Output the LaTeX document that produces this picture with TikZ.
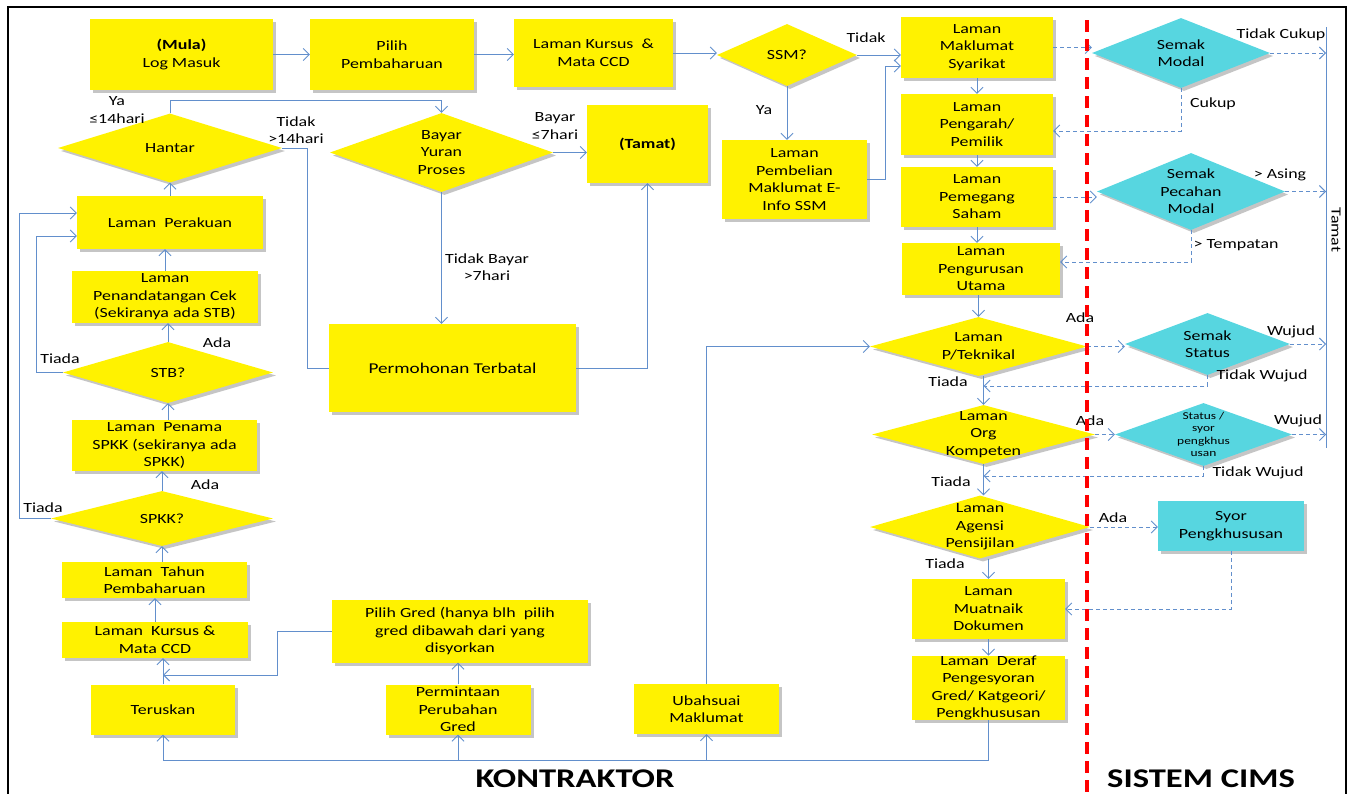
\documentclass[tikz,border=0pt]{standalone}
\usepackage{fontspec}
\setmainfont{Carlito}[FakeStretch=1.28]
\usetikzlibrary{arrows.meta,shapes.geometric,shadows}
\definecolor{flow}{RGB}{98,143,204}
\definecolor{cims}{RGB}{87,214,224}

\begin{document}
\begin{tikzpicture}[x=1pt,y=-1pt,font=\fontsize{14}{17.5}\selectfont]
\tikzstyle{box}=[rectangle, fill=yellow, align=center, inner sep=0pt, drop shadow={shadow xshift=3pt, shadow yshift=-3pt, fill=black!45, opacity=0.5}]
\tikzstyle{dia}=[diamond, fill=yellow, inner sep=0pt, drop shadow={shadow xshift=3pt, shadow yshift=-3pt, fill=black!45, opacity=0.5}]
\tikzstyle{cbox}=[box, fill=cims]
\tikzstyle{cdia}=[dia, fill=cims]
\tikzstyle{dtxt}=[align=center, inner sep=0pt]
\tikzstyle{lbl}=[align=center, inner sep=0pt]
\tikzstyle{ln}=[draw=flow, line width=0.9pt]
\tikzstyle{arr}=[ln, -{Straight Barb[length=6pt,width=12pt]}]
\tikzstyle{dsh}=[arr, dash pattern=on 4pt off 3pt]
\useasboundingbox (0,0) rectangle (1349,793);
\draw[line width=2pt] (8,800) -- (8,7) -- (1346,7) -- (1346,800);

\draw (181.5,54.5) node (mula) [box, minimum width=183, minimum height=71] {\textbf{(Mula)}\\Log Masuk};
\draw (392,54.5) node (pilih) [box, minimum width=164, minimum height=71] {Pilih\\Pembaharuan};
\draw (593.5,53) node (kursus) [box, minimum width=159, minimum height=68] {Laman Kursus~~\&\\Mata CCD};
\draw (787,55) node (ssm) [dia, minimum width=140, minimum height=62, label={[dtxt]center:SSM?}] {};
\draw (647.5,144) node (tamat) [box, minimum width=121, minimum height=78] {\textbf{(Tamat)}};
\draw (794.5,179.5) node (pembel) [box, minimum width=145, minimum height=79] {Laman\\Pembelian\\Maklumat E-\\Info SSM};
\draw (170,148) node (hantar) [dia, minimum width=224, minimum height=69, label={[dtxt]center:Hantar}] {};
\draw (441.5,152.5) node (bayar) [dia, minimum width=223, minimum height=79, label={[dtxt]center:Bayar\\Yuran\\Proses}] {};
\draw (452.5,368) node (batal) [box, minimum width=247, minimum height=88, font=\fontsize{15}{18}\selectfont] {Permohonan Terbatal};

\draw (170,222.5) node (perakuan) [box, minimum width=186, minimum height=53] {Laman~~Perakuan};
\draw (165,297) node (cek) [box, minimum width=186, minimum height=52] {Laman\\Penandatangan Cek\\(Sekiranya~ada~STB)};
\draw (168,372.5) node (stb) [dia, minimum width=210, minimum height=61, label={[dtxt]center:STB?}] {};
\draw (164.5,445.5) node (penama) [box, minimum width=185, minimum height=51] {Laman~~Penama\\SPKK (sekiranya~ada\\SPKK)};
\draw (162,518.5) node (spkk) [dia, minimum width=222, minimum height=55, label={[dtxt]center:SPKK?}] {};
\draw (154.5,580) node (tahun) [box, minimum width=185, minimum height=36] {Laman~~Tahun\\Pembaharuan};
\draw (155,640) node (kursus2) [box, minimum width=186, minimum height=36] {Laman~~Kursus \&\\Mata CCD};
\draw (163,709.5) node (teruskan) [box, minimum width=144, minimum height=50] {Teruskan};
\draw (460,631) node (gred) [box, minimum width=256, minimum height=63] {Pilih Gred (hanya blh~~pilih\\gred dibawah dari yang\\disyorkan};
\draw (458,709.5) node (minta) [box, minimum width=145, minimum height=50] {Permintaan\\Perubahan\\Gred};
\draw (706.5,709) node (ubah) [box, minimum width=145, minimum height=50] {Ubahsuai\\Maklumat};

\draw (977,47.5) node (mak) [box, minimum width=152, minimum height=61] {Laman\\Maklumat\\Syarikat};
\draw (977,124.5) node (pengarah) [box, minimum width=152, minimum height=61] {Laman\\Pengarah/\\Pemilik};
\draw (977,197) node (pemegang) [box, minimum width=152, minimum height=60] {Laman\\Pemegang\\Saham};
\draw (981,269) node (urus) [box, minimum width=158, minimum height=52] {Laman\\Pengurusan\\Utama};
\draw (978.5,346.5) node (ptek) [dia, minimum width=217, minimum height=59, label={[dtxt]center:Laman\\P/Teknikal}] {};
\draw (983.5,434.5) node (org) [dia, minimum width=223, minimum height=59, label={[dtxt]center:Laman\\Org\\Kompeten}] {};
\draw (980,527) node (agensi) [dia, minimum width=220, minimum height=63, label={[dtxt]center:Laman\\Agensi\\Pensijilan}] {};
\draw (988.5,609) node (muat) [box, minimum width=153, minimum height=60] {Laman\\Muatnaik\\Dokumen};
\draw (988.5,688) node (deraf) [box, minimum width=153, minimum height=62] {Laman~~Deraf\\Pengesyoran\\Gred/ Katgeori/\\Pengkhususan};

\draw (1181,53) node (modal) [cdia, minimum width=178, minimum height=70, label={[dtxt]center:Semak\\Modal}] {};
\draw (1191,191.5) node (pecahan) [cdia, minimum width=188, minimum height=77, label={[dtxt]center:Semak\\Pecahan\\Modal}] {};
\draw (1207.5,344) node (status) [cdia, minimum width=165, minimum height=62, label={[dtxt]center:Semak\\Status}] {};
\draw (1203.5,434.5) node (syor) [cdia, minimum width=177, minimum height=63, label={[dtxt, font=\fontsize{10.5}{12.5}\selectfont]center:Status /\\syor\\pengkhus\\usan}] {};
\draw (1231,526) node (syorP) [cbox, minimum width=146, minimum height=50] {Syor\\Pengkhususan};

\coordinate (bus) at (deraf.south |- 0,760);
\coordinate (j1) at (teruskan.north |- 0,675);
\coordinate (j2) at (org.north |- 0,386);
\coordinate (j3) at (org.south |- 0,476);
\coordinate (tt) at (1326,27);
\coordinate (tb) at (1326,448);

\draw[arr] (mula) -- (pilih);
\draw[arr] (pilih.east) -- (pilih.east -| kursus.west);
\draw[arr] (kursus.east) -- (kursus.east -| ssm.west);
\draw[arr] (ssm.east) -- (ssm.east -| mak.west);
\draw[arr] (ssm.south) -- (ssm.south |- pembel.north);
\draw[arr] (pembel.east) -- ++(18,0) |- (mak.west |- 0,66);
\draw[arr] (mak) -- (pengarah);
\draw[arr] (pengarah) -- (pemegang);
\draw[arr] (pemegang.south) -- (pemegang.south |- urus.north);
\draw[arr] (ptek.north |- urus.south) -- (ptek.north);
\draw[arr] (org.north |- ptek.south) -- (org.north);
\draw[arr] (org.south) -- (org.south |- agensi.north);
\draw[arr] (muat.north |- agensi.south) -- (muat.north);
\draw[arr] (muat) -- (deraf);
\draw[arr] (deraf.south) -- (bus) -| (teruskan.south);
\draw[arr] (ubah.south |- bus) -- (ubah.south);
\draw[arr] (minta.south |- bus) -- (minta.south);
\draw[arr] (ubah.north) |- (ptek.west);
\draw[arr] (teruskan.north) -- (teruskan.north |- kursus2.south);
\draw[arr] (gred.west) -- ++(-54,0) |- (j1);
\draw[arr] (minta.north) -- (minta.north |- gred.south);
\draw[arr] (kursus2.north) -- (kursus2.north |- tahun.south);
\draw[arr] (spkk.south |- tahun.north) -- (spkk.south);
\draw[arr] (spkk.north) -- (spkk.north |- penama.south);
\draw[arr] (stb.south |- penama.north) -- (stb.south);
\draw[arr] (stb.north) -- (stb.north |- cek.south);
\draw[arr] (cek.north) -- (cek.north |- perakuan.south);
\draw[arr] (hantar.south |- perakuan.north) -- (hantar.south);
\draw[arr] (stb.west) -- ++(-26,0) |- (perakuan.west |- 0,236);
\draw[arr] (spkk.west) -- ++(-31,0) |- (perakuan.west |- 0,213);
\draw[arr] (hantar.north) -- ++(0,-13) -| (bayar.north);
\draw[ln] (hantar.east) -- ++(25,0) |- (batal.west);
\draw[arr] (bayar.east) -- (bayar.east -| tamat.west);
\draw[arr] (bayar.south) -- (bayar.south |- batal.north);
\draw[arr] (batal.east) -| (tamat.south);

\draw[dsh] (mak.east) -- (mak.east -| modal.west);
\draw[dsh] (modal.south) |- (pengarah.east |- 0,131);
\draw[dsh] (pemegang.east) -- (pemegang.east -| pecahan.west);
\draw[dsh] (pecahan.south) |- (urus.east |- 0,262);
\draw[dsh] (ptek.east) -- (ptek.east -| status.west);
\draw[dsh] (status.south) |- (j2);
\draw[dsh] (org.east) -- (org.east -| syor.west);
\draw[dsh] (syor.south) |- (j3);
\draw[dsh] (agensi.east) -- (agensi.east -| syorP.west);
\draw[dsh] (syorP.south) |- (muat.east);
\draw[ln] (tt) -- (tb);
\draw[dsh] (modal.east) -- (modal.east -| tt);
\draw[dsh] (pecahan.east) -- (pecahan.east -| tt);
\draw[dsh] (status.east) -- (status.east -| tt);
\draw[dsh] (syor.east) -- (syor.east -| tt);

\draw (866,38) node (lTidak) [lbl] {Tidak};
\draw (764,110) node (lYa) [lbl] {Ya};
\draw (117,110) node (lYa14) [lbl] {Ya\\≤14hari};
\draw (296,130) node (lTidak14) [lbl] {Tidak\\>14hari};
\draw (555,126) node (lBayar) [lbl] {Bayar\\≤7hari};
\draw (487,267) node (lTBayar) [lbl] {Tidak Bayar\\>7hari};
\draw (217,343) node (lAdaStb) [lbl] {Ada};
\draw (60,359) node (lTiadaStb) [lbl] {Tiada};
\draw (205,485) node (lAdaSpkk) [lbl] {Ada};
\draw (43,508) node (lTiadaSpkk) [lbl] {Tiada};
\draw (1281,35) node (lTCukup) [lbl] {Tidak Cukup};
\draw (1213,104) node (lCukup) [lbl] {Cukup};
\draw (1280,175) node (lAsing) [lbl] {> Asing};
\draw (1236,245) node (lTempatan) [lbl] {> Tempatan};
\draw (1080,318) node (lAdaTek) [lbl] {Ada};
\draw (1291,332) node (lWujud1) [lbl] {Wujud};
\draw (948,382) node (lTiadaTek) [lbl] {Tiada};
\draw (1262,376) node (lTWujud1) [lbl] {Tidak Wujud};
\draw (1090,421) node (lAdaOrg) [lbl] {Ada};
\draw (1298,421) node (lWujud2) [lbl] {Wujud};
\draw (951,482) node (lTiadaOrg) [lbl] {Tiada};
\draw (1258,473) node (lTWujud2) [lbl] {Tidak Wujud};
\draw (1113,518) node (lAdaAg) [lbl] {Ada};
\draw (945,564) node (lTiadaAg) [lbl] {Tiada};
\draw (1336,230) node (lTamat) [lbl, rotate=-90] {Tamat};

\draw[red, line width=4pt, dash pattern=on 12pt off 7pt] (1087,20) -- (1087,800);
\draw (575,779) node (kontraktor) [font=\fontsize{27}{30}\selectfont\bfseries] {KONTRAKTOR};
\draw (1201,779) node (cims) [font=\fontsize{27}{30}\selectfont\bfseries] {SISTEM CIMS};
\end{tikzpicture}
\end{document}
